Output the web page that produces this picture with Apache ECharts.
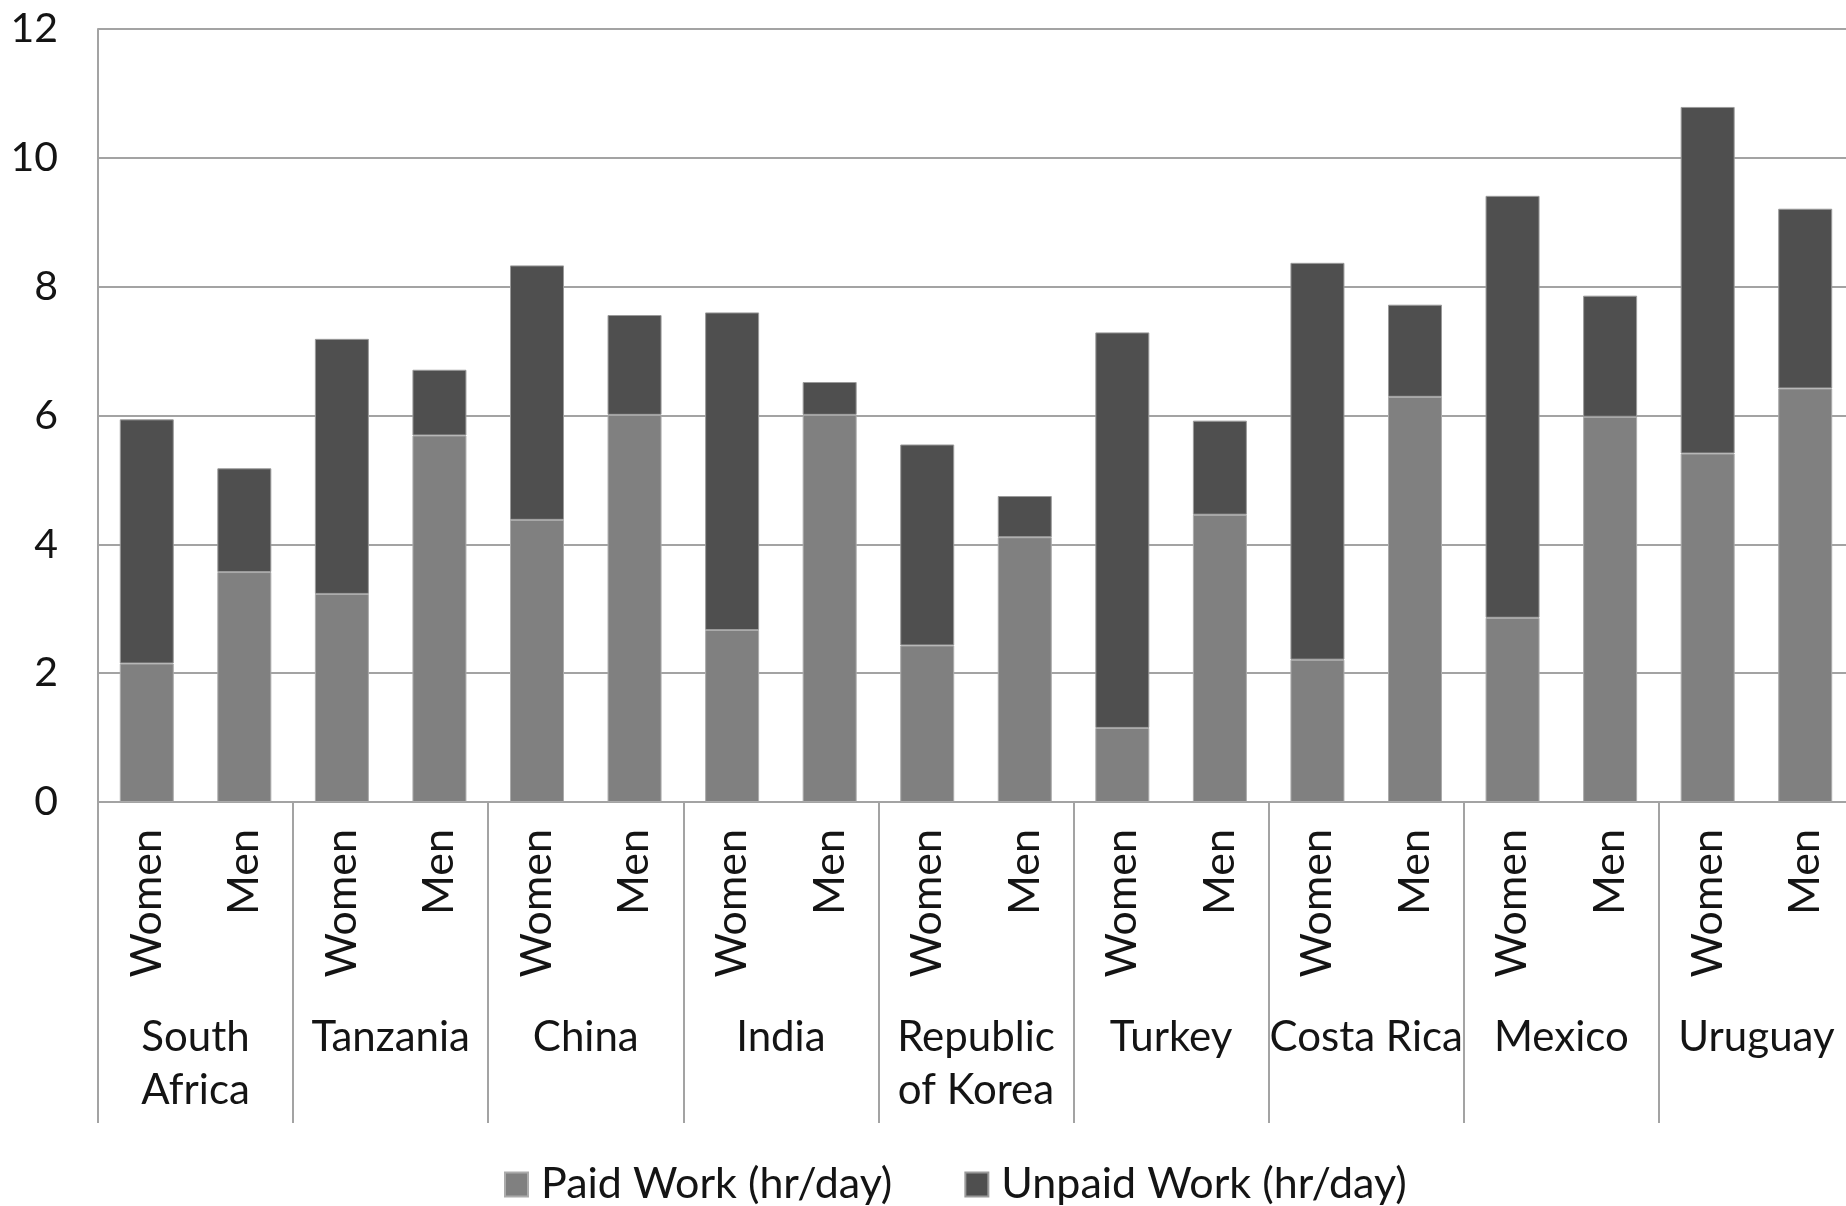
<!DOCTYPE html>
<html>
<head>
<meta charset="utf-8">
<script src="https://cdn.jsdelivr.net/npm/echarts@6/dist/echarts.min.js"></script>
<style>
html,body{margin:0;padding:0;background:#fff;overflow:hidden;width:1846px;height:1206px;}
#chart{width:1862px;height:1206px;}
</style>
</head>
<body>
<div id="chart"></div>
<script>
const countries = ['South\nAfrica','Tanzania','China','India','Republic\nof Korea','Turkey','Costa Rica','Mexico','Uruguay'];
const groups = ['Women','Men'];
const barLabels = [];
countries.forEach(function(){ groups.forEach(function(g){ barLabels.push(g); }); });
// order: SA W, SA M, Tanzania W, Tanzania M, ...
const paidWork   = [2.15, 3.57, 3.23, 5.69, 4.38, 6.01, 2.67, 6.01, 2.43, 4.11, 1.15, 4.46, 2.21, 6.29, 2.86, 5.98, 5.41, 6.42];
const unpaidWork = [3.79, 1.61, 3.96, 1.02, 3.95, 1.55, 4.93, 0.51, 3.12, 0.64, 6.14, 1.46, 6.16, 1.43, 6.55, 1.88, 5.38, 2.79];
const yTicks = {min:0, max:12, interval:2};

const FONT = 'Lato';
const GRID = '#a3a3a3';
const TXT = '#141414';
const chart = echarts.init(document.getElementById('chart'));
chart.setOption({
  animation:false,
  backgroundColor:'#ffffff',
  textStyle:{fontFamily:FONT},
  grid:{left:98, top:29, width:1756, bottom:404, containLabel:false},
  legend:{
    left:504, top:1163, padding:0,
    icon:'rect', itemWidth:23, itemHeight:24, itemGap:72,
    textStyle:{fontFamily:FONT, fontSize:43, color:TXT, padding:[0,0,0,8]},
    data:['Paid Work (hr/day)','Unpaid Work (hr/day)']
  },
  xAxis:[{
    type:'category', data:barLabels, position:'bottom',
    axisLine:{show:true, lineStyle:{color:GRID, width:2}},
    axisTick:{show:false},
    axisLabel:{rotate:90, margin:27, interval:0, fontFamily:FONT, fontSize:43, color:TXT}
  },{
    type:'category', data:countries, position:'bottom',
    axisLine:{show:false},
    axisTick:{show:true, interval:0, length:321, lineStyle:{color:GRID, width:2}},
    axisLabel:{interval:0, margin:209, fontFamily:FONT, fontSize:42, lineHeight:53, color:TXT}
  }],
  yAxis:{
    type:'value', min:yTicks.min, max:yTicks.max, interval:yTicks.interval,
    axisLine:{show:true, lineStyle:{color:GRID, width:2}},
    axisTick:{show:false},
    splitLine:{show:true, lineStyle:{color:GRID, width:2}},
    axisLabel:{margin:40, fontFamily:FONT, fontSize:41, color:TXT}
  },
  series:[{
    name:'Paid Work (hr/day)', type:'bar', stack:'t', data:paidWork, barWidth:54,
    itemStyle:{color:'#808080', borderColor:'#ababab', borderWidth:1}
  },{
    name:'Unpaid Work (hr/day)', type:'bar', stack:'t', data:unpaidWork, barWidth:54,
    itemStyle:{color:'#4f4f4f', borderColor:'#9a9a9a', borderWidth:1}
  }]
});
</script>
</body>
</html>
